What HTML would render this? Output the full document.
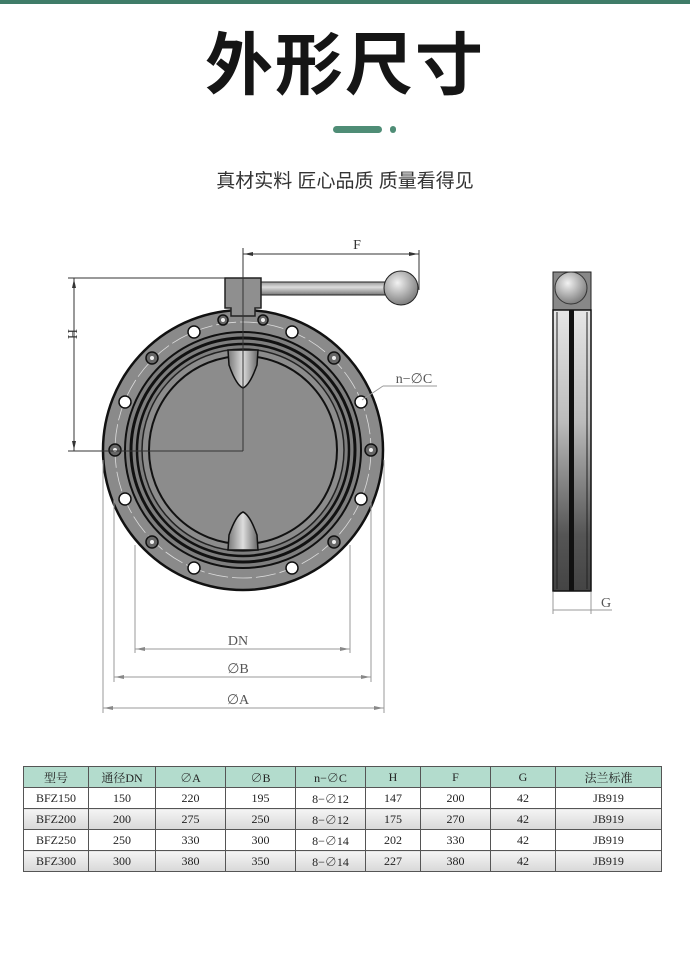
<!DOCTYPE html>
<html><head><meta charset="utf-8"><style>
html,body{margin:0;padding:0;background:#fff}
body{width:690px;height:980px;position:relative;overflow:hidden;font-family:"Liberation Sans","Noto Sans CJK SC",sans-serif}
.t{position:absolute;left:0;width:690px;text-align:center}
table{position:absolute;left:23px;top:766px;border-collapse:collapse;font-family:"Liberation Serif","Noto Serif CJK SC",serif;font-size:12px;color:#222}
td{border:1px solid #555;text-align:center;height:20px;padding:0}
tr.h td{background:#b3dccd}
tr.g td{background:linear-gradient(#f4f4f4,#d8d8d8)}
</style></head><body>
<div style="position:absolute;left:0;top:0;width:690px;height:4px;background:#3f7c68"></div>
<div class="t" style="top:26px;font-size:68px;font-weight:bold;color:#151515;letter-spacing:2px;line-height:80px">外形尺寸</div>
<div style="position:absolute;left:333px;top:126px;width:49px;height:7px;border-radius:4px;background:#4f8d76"></div>
<div style="position:absolute;left:390px;top:126px;width:6px;height:7px;border-radius:3px;background:#4f8d76"></div>
<div class="t" style="top:170px;font-size:19px;color:#333;line-height:24px">真材实料 匠心品质 质量看得见</div>
<svg width="690" height="980" style="position:absolute;left:0;top:0" xmlns="http://www.w3.org/2000/svg">
<defs>
<radialGradient id="ball" cx="0.4" cy="0.35" r="0.7"><stop offset="0" stop-color="#f2f2f2"/><stop offset="1" stop-color="#777"/></radialGradient>
<linearGradient id="side" x1="0" y1="0" x2="0" y2="1"><stop offset="0" stop-color="#e6e6e6"/><stop offset="0.4" stop-color="#bbb"/><stop offset="0.8" stop-color="#555"/><stop offset="1" stop-color="#444"/></linearGradient>
<linearGradient id="bar" x1="0" y1="0" x2="0" y2="1"><stop offset="0" stop-color="#999"/><stop offset="0.4" stop-color="#ddd"/><stop offset="1" stop-color="#777"/></linearGradient>
<linearGradient id="cone" x1="0" y1="0" x2="1" y2="0"><stop offset="0" stop-color="#777"/><stop offset="0.5" stop-color="#ddd"/><stop offset="1" stop-color="#666"/></linearGradient>
</defs>
<rect x="258" y="282" width="130" height="13" fill="url(#bar)" stroke="#222"/>
<circle cx="401" cy="288" r="17" fill="url(#ball)" stroke="#222"/>
<circle cx="243" cy="450" r="140" fill="#8a8a8a" stroke="#111" stroke-width="2.5"/>
<circle cx="243" cy="450" r="128" fill="none" stroke="#ddd" stroke-width="0.8" stroke-dasharray="20 4"/>
<circle cx="243" cy="450" r="118" fill="#7e7e7e" stroke="#111" stroke-width="2"/>
<circle cx="243" cy="450" r="112" fill="none" stroke="#111" stroke-width="3"/>
<circle cx="243" cy="450" r="106" fill="none" stroke="#111" stroke-width="2.5"/>
<circle cx="243" cy="450" r="101" fill="#8c8c8c" stroke="#222" stroke-width="1.5"/>
<circle cx="243" cy="450" r="94" fill="#8c8c8c" stroke="#111" stroke-width="2"/>
<g fill="#fff" stroke="#111" stroke-width="1.5">
<circle cx="194" cy="332" r="6"/><circle cx="292" cy="332" r="6"/>
<circle cx="125" cy="402" r="6"/><circle cx="361" cy="402" r="6"/>
<circle cx="125" cy="499" r="6"/><circle cx="361" cy="499" r="6"/>
<circle cx="194" cy="568" r="6"/><circle cx="292" cy="568" r="6"/>
</g>
<g fill="#666" stroke="#111" stroke-width="1.5">
<circle cx="152" cy="358" r="6"/><circle cx="334" cy="358" r="6"/>
<circle cx="115" cy="450" r="6"/><circle cx="371" cy="450" r="6"/>
<circle cx="152" cy="542" r="6"/><circle cx="334" cy="542" r="6"/>
<circle cx="223" cy="320" r="5"/><circle cx="263" cy="320" r="5"/>
</g>
<g fill="#eee"><circle cx="152" cy="358" r="2"/><circle cx="334" cy="358" r="2"/><circle cx="115" cy="450" r="2"/><circle cx="371" cy="450" r="2"/><circle cx="152" cy="542" r="2"/><circle cx="334" cy="542" r="2"/><circle cx="223" cy="320" r="2"/><circle cx="263" cy="320" r="2"/></g>
<path d="M225 278 H261 V308 H255 V316 H231 V308 H225 Z" fill="#8f8f8f" stroke="#222" stroke-width="1.5"/>
<path d="M228 350 H258 L257 365 Q250 385 243 388 Q236 385 229 365 Z" fill="url(#cone)" stroke="#111" stroke-width="1.5"/>
<path d="M228 550 H258 L257 535 Q250 515 243 512 Q236 515 229 535 Z" fill="url(#cone)" stroke="#111" stroke-width="1.5"/>
<g stroke="#333" stroke-width="1" fill="none">
<line x1="68" y1="278" x2="225" y2="278"/>
<line x1="68" y1="451" x2="243" y2="451"/>
<line x1="74" y1="278" x2="74" y2="451"/>
<line x1="243" y1="248" x2="243" y2="451"/>
<line x1="419" y1="250" x2="419" y2="290"/>
<line x1="243" y1="254" x2="419" y2="254"/>
</g>
<g fill="#333"><path d="M74 279 l-2 9 h4z"/><path d="M74 450 l-2 -9 h4z"/><path d="M244 254 l9 -2 v4z"/><path d="M418 254 l-9 -2 v4z"/></g>
<g stroke="#999" stroke-width="1" fill="none">
<line x1="135" y1="545" x2="135" y2="653"/><line x1="350" y1="545" x2="350" y2="653"/>
<line x1="114" y1="500" x2="114" y2="682"/><line x1="371" y1="500" x2="371" y2="682"/>
<line x1="103" y1="460" x2="103" y2="713"/><line x1="384" y1="460" x2="384" y2="713"/>
<line x1="135" y1="649" x2="350" y2="649"/>
<line x1="114" y1="677" x2="371" y2="677"/>
<line x1="103" y1="708" x2="384" y2="708"/>
<line x1="362" y1="400" x2="383" y2="386"/><line x1="383" y1="386" x2="437" y2="386"/>
<line x1="553" y1="592" x2="553" y2="614"/><line x1="591" y1="592" x2="591" y2="614"/>
<line x1="553" y1="610" x2="612" y2="610"/>
</g>
<g fill="#888"><path d="M136 649 l9 -2 v4z"/><path d="M349 649 l-9 -2 v4z"/><path d="M115 677 l9 -2 v4z"/><path d="M370 677 l-9 -2 v4z"/><path d="M104 708 l9 -2 v4z"/><path d="M383 708 l-9 -2 v4z"/></g>
<g font-family="Liberation Serif,serif" font-size="14" fill="#555" text-anchor="middle">
<text x="357" y="249" fill="#333">F</text>
<text x="0" y="0" transform="translate(68,334) rotate(90)" fill="#333">H</text>
<text x="238" y="645">DN</text>
<text x="238" y="673">∅B</text>
<text x="238" y="704">∅A</text>
<text x="414" y="383">n−∅C</text>
<text x="606" y="607">G</text>
</g>
<rect x="553" y="272" width="38" height="38" fill="#888" stroke="#222"/>
<circle cx="571" cy="288" r="16" fill="url(#ball)" stroke="#333"/>
<rect x="553" y="310" width="38" height="281" fill="url(#side)" stroke="#111" stroke-width="1.5"/>
<rect x="569" y="310" width="5" height="281" fill="#111"/>
<line x1="557" y1="312" x2="557" y2="589" stroke="#222"/>
<line x1="587" y1="312" x2="587" y2="589" stroke="#222"/>
</svg>
<table>
<colgroup><col style="width:65px"><col style="width:67px"><col style="width:70px"><col style="width:70px"><col style="width:70px"><col style="width:55px"><col style="width:70px"><col style="width:65px"><col style="width:106px"></colgroup>
<tr class="h"><td>型号</td><td>通径DN</td><td>∅A</td><td>∅B</td><td>n−∅C</td><td>H</td><td>F</td><td>G</td><td>法兰标准</td></tr>
<tr><td>BFZ150</td><td>150</td><td>220</td><td>195</td><td>8−∅12</td><td>147</td><td>200</td><td>42</td><td>JB919</td></tr>
<tr class="g"><td>BFZ200</td><td>200</td><td>275</td><td>250</td><td>8−∅12</td><td>175</td><td>270</td><td>42</td><td>JB919</td></tr>
<tr><td>BFZ250</td><td>250</td><td>330</td><td>300</td><td>8−∅14</td><td>202</td><td>330</td><td>42</td><td>JB919</td></tr>
<tr class="g"><td>BFZ300</td><td>300</td><td>380</td><td>350</td><td>8−∅14</td><td>227</td><td>380</td><td>42</td><td>JB919</td></tr>
</table>
</body></html>
